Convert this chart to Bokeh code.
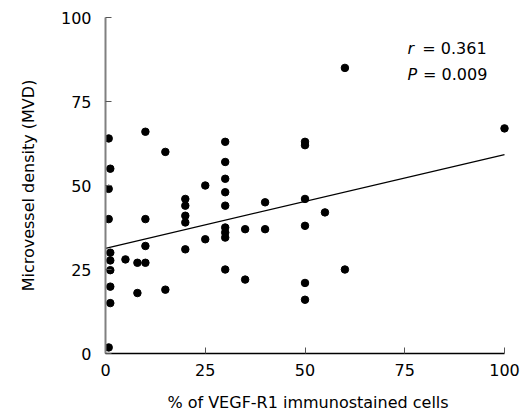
from bokeh.plotting import figure
from bokeh.models import Range1d, FixedTicker
from bokeh.core.properties import value
from bokeh.embed import file_html
from bokeh.resources import INLINE

# Data
vegf = [0.8, 1.2, 0.8, 0.8, 1.2, 1.2, 1.2, 1.2, 1.2, 0.8,
        5, 8, 8, 10, 10, 10, 10, 15, 15,
        20, 20, 20, 20, 20, 25, 25,
        30, 30, 30, 30, 30, 30, 30, 30, 30,
        35, 35, 40, 40,
        50, 50, 50, 50, 50, 50, 55, 60, 60, 100]
mvd = [64, 55, 49, 40, 30, 27.7, 24.8, 19.9, 15, 1.8,
       28, 27, 18, 66, 40, 32, 27, 60, 19,
       46, 44, 41, 39, 31, 50, 34,
       63, 57, 52, 48, 44, 37.5, 36, 34.5, 25,
       37, 22, 45, 37,
       63, 62, 46, 38, 21, 16, 42, 85, 25, 67]
fit_x = [0, 100]
fit_y = [31.3, 59.2]
ticks = [0, 25, 50, 75, 100]

FONT = "DejaVu Sans"

p = figure(width=520, height=414, x_range=Range1d(0, 101.5), y_range=Range1d(0, 100),
           output_backend="svg", toolbar_location=None,
           min_border_left=105, min_border_right=10, min_border_top=17, min_border_bottom=57)
p.outline_line_color = None
p.xgrid.visible = False
p.ygrid.visible = False
p.background_fill_color = "white"

p.line(fit_x, fit_y, line_color="black", line_width=1.2)
p.scatter(vegf, mvd, size=7.5, fill_color="black", line_color="black")

# annotation
p.text(x=[75.7, 75.7], y=[90.9, 83.0], text=["r", "P"],
       text_font=value(FONT), text_font_style="italic", text_font_size="16px",
       text_baseline="middle", text_align="left", text_color="black")
p.text(x=[79.4, 79.6], y=[90.9, 83.0], text=["= 0.361", "= 0.009"],
       text_font=value(FONT), text_font_size="16px",
       text_baseline="middle", text_align="left", text_color="black")

for ax in (p.xaxis[0], p.yaxis[0]):
    ax.ticker = FixedTicker(ticks=ticks)
    ax.minor_tick_line_color = None
    ax.major_tick_in = 6
    ax.major_tick_out = 0
    ax.major_label_text_font = FONT
    ax.major_label_text_font_size = "16px"
    ax.major_label_text_color = "black"
    ax.axis_label_text_font = FONT
    ax.axis_label_text_font_size = "16px"
    ax.axis_label_text_font_style = "normal"
    ax.axis_label_text_color = "black"

p.xaxis.bounds = (0, 100)
p.xaxis.axis_line_color = "black"
p.xaxis.axis_line_width = 1.5
p.xaxis.major_tick_line_color = "#555555"
p.xaxis.major_label_standoff = 10
p.xaxis.axis_label = "% of VEGF-R1 immunostained cells"
p.xaxis.axis_label_standoff = 14

p.yaxis.axis_line_color = "#808080"
p.yaxis.axis_line_width = 2
p.yaxis.major_tick_line_color = "#555555"
p.yaxis.major_label_standoff = 14
p.yaxis.axis_label = "Microvessel density (MVD)"
p.yaxis.axis_label_standoff = 20

open("out.html", "w").write(file_html(p, INLINE))
